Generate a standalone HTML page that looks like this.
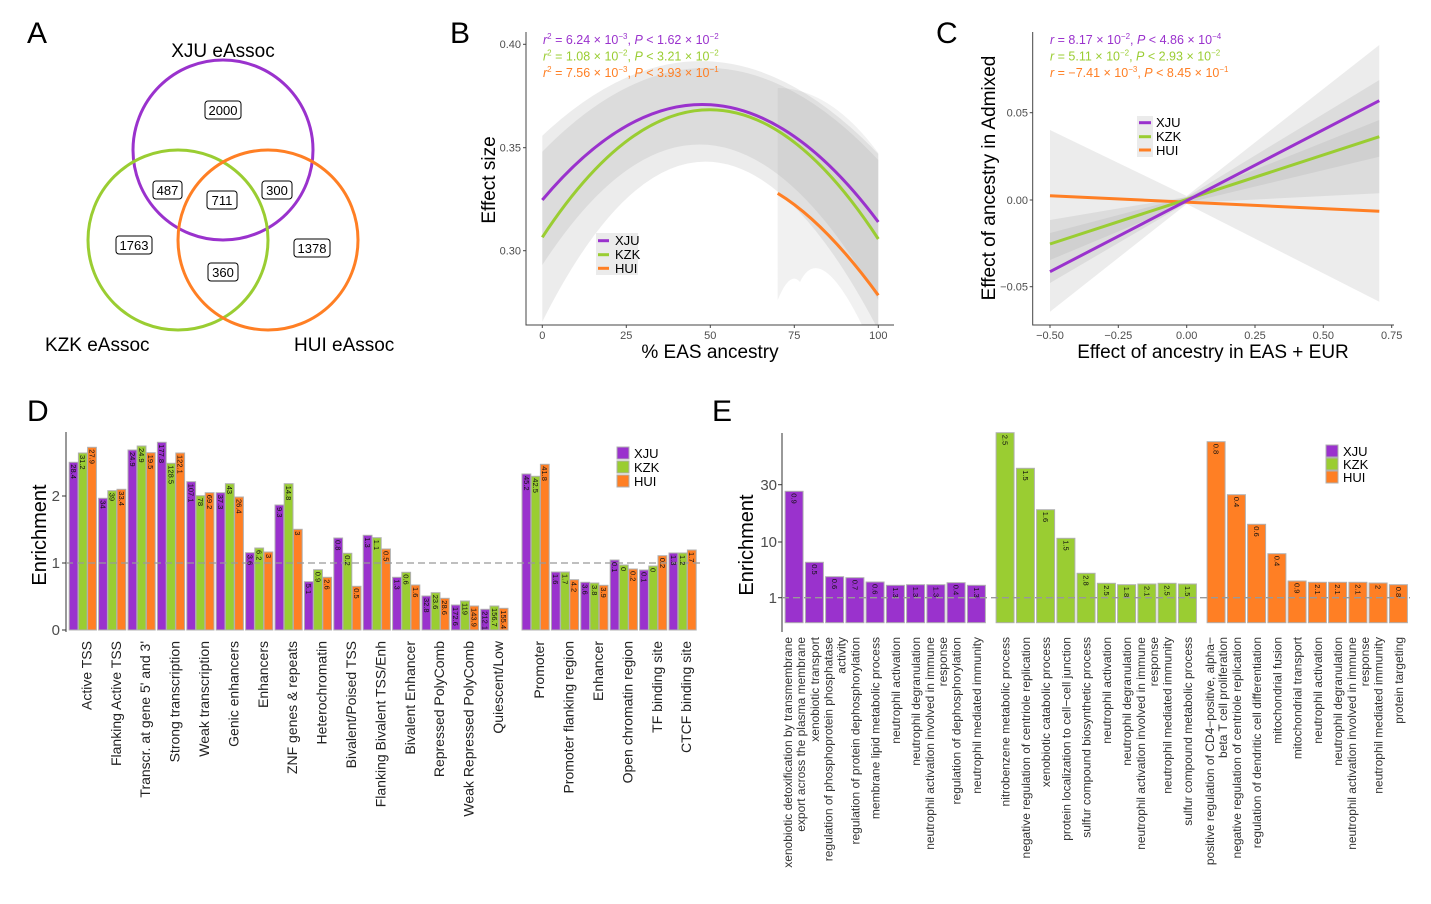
<!DOCTYPE html>
<html><head><meta charset="utf-8"><style>
html,body{margin:0;padding:0;background:#fff}
svg{display:block;font-family:"Liberation Sans",Arial,sans-serif}
.b{stroke:#b0b0b0;stroke-width:1}
.X{fill:#9A32CD}.K{fill:#9ACD32}.H{fill:#FF7F24}
.v{font-size:7.5px;fill:#111}
.dl{font-size:14px;fill:#222;text-anchor:end}
.el{font-size:12px;fill:#333;text-anchor:end}
.tk{font-size:11px;fill:#4d4d4d}
</style></head><body>
<svg width="1431" height="904" viewBox="0 0 1431 904" xmlns="http://www.w3.org/2000/svg">
<g font-size="30" fill="#000">
<text x="27" y="43">A</text><text x="450" y="43">B</text><text x="936" y="43">C</text>
<text x="27" y="421">D</text><text x="712" y="421">E</text></g>

<g fill="none" stroke-width="3">
<circle cx="223" cy="150" r="90" stroke="#9A32CD"/>
<circle cx="178" cy="240" r="90" stroke="#9ACD32"/>
<circle cx="268" cy="240" r="90" stroke="#FF7F24"/>
</g>
<g font-size="13" text-anchor="middle">
<rect x="205" y="101" width="36" height="18" rx="3" fill="#fff" stroke="#000"/><text x="223" y="115">2000</text>
<rect x="153" y="181" width="29" height="18" rx="3" fill="#fff" stroke="#000"/><text x="167.5" y="195">487</text>
<rect x="207" y="191" width="30" height="18" rx="3" fill="#fff" stroke="#000"/><text x="222" y="205">711</text>
<rect x="262" y="181" width="30" height="18" rx="3" fill="#fff" stroke="#000"/><text x="277" y="195">300</text>
<rect x="116" y="236" width="36" height="18" rx="3" fill="#fff" stroke="#000"/><text x="134" y="250">1763</text>
<rect x="208" y="263" width="30" height="18" rx="3" fill="#fff" stroke="#000"/><text x="223" y="277">360</text>
<rect x="294" y="239" width="36" height="18" rx="3" fill="#fff" stroke="#000"/><text x="312" y="253">1378</text>
</g>
<g font-size="19"><text x="223" y="57" text-anchor="middle">XJU eAssoc</text>
<text x="45" y="351">KZK eAssoc</text><text x="294" y="351">HUI eAssoc</text></g>

<defs><clipPath id="cb"><rect x="526" y="30" width="370" height="295"/></clipPath>
<clipPath id="cc"><rect x="1033" y="30" width="362" height="295"/></clipPath></defs>
<g clip-path="url(#cb)">
<path d="M542.3,135.7 Q710,-22 878.3,154 L878.3,330 Q705,-2.6 542.3,321.7 Z" fill="#a0a0a0" opacity="0.2"/>
<path d="M542.3,151.7 Q710,-19.9 878.3,160 L878.3,300 Q710,7.5 542.3,265 Z" fill="#a0a0a0" opacity="0.2"/>
<path d="M777.7,88 Q830,88 878.3,153 L878.3,325 L862,325 Q820,240 800,282 Q790,270 777.7,300 Z" fill="#a0a0a0" opacity="0.15"/>
<path d="M542.3,200 Q711.6,-1.5 878.3,222" fill="none" stroke="#9A32CD" stroke-width="3"/>
<path d="M542.3,237.3 Q710.3,-18.7 878.3,239" fill="none" stroke="#9ACD32" stroke-width="3"/>
<path d="M777.7,193.3 Q825,222 878.3,295.3" fill="none" stroke="#FF7F24" stroke-width="3"/>
</g>
<path d="M526,32 V325 H894" fill="none" stroke="#444" stroke-width="1"/>
<g class="tk" text-anchor="end"><text x="521" y="48">0.40</text><text x="521" y="151.5">0.35</text><text x="521" y="254.5">0.30</text></g>
<g stroke="#444"><line x1="523" y1="44.3" x2="526" y2="44.3"/><line x1="523" y1="147.7" x2="526" y2="147.7"/><line x1="523" y1="250.7" x2="526" y2="250.7"/>
<line x1="542.3" y1="325" x2="542.3" y2="328"/><line x1="626.3" y1="325" x2="626.3" y2="328"/><line x1="710.3" y1="325" x2="710.3" y2="328"/><line x1="794.3" y1="325" x2="794.3" y2="328"/><line x1="878.3" y1="325" x2="878.3" y2="328"/></g>
<g class="tk" text-anchor="middle"><text x="542.3" y="339">0</text><text x="626.3" y="339">25</text><text x="710.3" y="339">50</text><text x="794.3" y="339">75</text><text x="878.3" y="339">100</text></g>
<text x="710" y="358" font-size="19" text-anchor="middle">% EAS ancestry</text>
<text transform="translate(495,180) rotate(-90)" font-size="19" text-anchor="middle">Effect size</text>
<rect x="596" y="233" width="42" height="42" fill="#ebebeb"/>
<g stroke-width="3"><line x1="598" y1="240.7" x2="609" y2="240.7" stroke="#9A32CD"/><line x1="598" y1="254.7" x2="609" y2="254.7" stroke="#9ACD32"/><line x1="598" y1="268.3" x2="609" y2="268.3" stroke="#FF7F24"/></g>
<g font-size="13"><text x="615" y="245">XJU</text><text x="615" y="259">KZK</text><text x="615" y="273">HUI</text></g>
<g font-size="12.5">
<text x="543" y="44" fill="#9A32CD"><tspan font-style="italic">r</tspan><tspan dy="-5" font-size="8">2</tspan><tspan dy="5"> = 6.24 × 10</tspan><tspan dy="-5" font-size="8">−3</tspan><tspan dy="5">,  </tspan><tspan font-style="italic">P</tspan><tspan> &lt; 1.62 × 10</tspan><tspan dy="-5" font-size="8">−2</tspan></text>
<text x="543" y="60.5" fill="#9ACD32"><tspan font-style="italic">r</tspan><tspan dy="-5" font-size="8">2</tspan><tspan dy="5"> = 1.08 × 10</tspan><tspan dy="-5" font-size="8">−2</tspan><tspan dy="5">,  </tspan><tspan font-style="italic">P</tspan><tspan> &lt; 3.21 × 10</tspan><tspan dy="-5" font-size="8">−2</tspan></text>
<text x="543" y="77" fill="#FF7F24"><tspan font-style="italic">r</tspan><tspan dy="-5" font-size="8">2</tspan><tspan dy="5"> = 7.56 × 10</tspan><tspan dy="-5" font-size="8">−3</tspan><tspan dy="5">,  </tspan><tspan font-style="italic">P</tspan><tspan> &lt; 3.93 × 10</tspan><tspan dy="-5" font-size="8">−1</tspan></text>
</g>

<g clip-path="url(#cc)">
<polygon points="1050,130 1186.7,196 1379.3,45 1379.3,301.7 1186.7,204 1050,311.7" fill="#a0a0a0" opacity="0.2"/>
<polygon points="1050,233 1186.7,197 1379.3,80 1379.3,156.7 1186.7,203 1050,283" fill="#a0a0a0" opacity="0.2"/>
<polygon points="1050,220 1186.7,197 1379.3,120 1379.3,193.3 1186.7,203 1050,260" fill="#a0a0a0" opacity="0.2"/>
<line x1="1050" y1="195.7" x2="1379.3" y2="211.3" stroke="#FF7F24" stroke-width="3"/>
<line x1="1050" y1="244" x2="1379.3" y2="136.7" stroke="#9ACD32" stroke-width="3"/>
<line x1="1050" y1="271.7" x2="1379.3" y2="100.7" stroke="#9A32CD" stroke-width="3"/>
</g>
<path d="M1032.7,32 V325 H1394" fill="none" stroke="#444"/>
<g class="tk" text-anchor="end"><text x="1028" y="116.5">0.05</text><text x="1028" y="204">0.00</text><text x="1028" y="290.5">−0.05</text></g>
<g stroke="#444"><line x1="1029.7" y1="112.7" x2="1032.7" y2="112.7"/><line x1="1029.7" y1="200" x2="1032.7" y2="200"/><line x1="1029.7" y1="286.7" x2="1032.7" y2="286.7"/>
<line x1="1050" y1="325" x2="1050" y2="328"/><line x1="1118.3" y1="325" x2="1118.3" y2="328"/><line x1="1186.7" y1="325" x2="1186.7" y2="328"/><line x1="1255" y1="325" x2="1255" y2="328"/><line x1="1323.3" y1="325" x2="1323.3" y2="328"/><line x1="1391.7" y1="325" x2="1391.7" y2="328"/></g>
<g class="tk" text-anchor="middle"><text x="1050" y="339">−0.50</text><text x="1118.3" y="339">−0.25</text><text x="1186.7" y="339">0.00</text><text x="1255" y="339">0.25</text><text x="1323.3" y="339">0.50</text><text x="1391.7" y="339">0.75</text></g>
<text x="1213" y="358" font-size="19" text-anchor="middle">Effect of ancestry in EAS + EUR</text>
<text transform="translate(995,178) rotate(-90)" font-size="19" text-anchor="middle">Effect of ancestry in Admixed</text>
<rect x="1137" y="116" width="16" height="41" fill="#ebebeb"/>
<g stroke-width="3"><line x1="1139" y1="122.7" x2="1151" y2="122.7" stroke="#9A32CD"/><line x1="1139" y1="136.7" x2="1151" y2="136.7" stroke="#9ACD32"/><line x1="1139" y1="150" x2="1151" y2="150" stroke="#FF7F24"/></g>
<g font-size="13"><text x="1156" y="127">XJU</text><text x="1156" y="141">KZK</text><text x="1156" y="155">HUI</text></g>
<g font-size="12.5">
<text x="1050" y="44" fill="#9A32CD"><tspan font-style="italic">r</tspan><tspan> = 8.17 × 10</tspan><tspan dy="-5" font-size="8">−2</tspan><tspan dy="5">,  </tspan><tspan font-style="italic">P</tspan><tspan> &lt; 4.86 × 10</tspan><tspan dy="-5" font-size="8">−4</tspan></text>
<text x="1050" y="60.5" fill="#9ACD32"><tspan font-style="italic">r</tspan><tspan> = 5.11 × 10</tspan><tspan dy="-5" font-size="8">−2</tspan><tspan dy="5">,  </tspan><tspan font-style="italic">P</tspan><tspan> &lt; 2.93 × 10</tspan><tspan dy="-5" font-size="8">−2</tspan></text>
<text x="1050" y="77" fill="#FF7F24"><tspan font-style="italic">r</tspan><tspan> = −7.41 × 10</tspan><tspan dy="-5" font-size="8">−3</tspan><tspan dy="5">,  </tspan><tspan font-style="italic">P</tspan><tspan> &lt; 8.45 × 10</tspan><tspan dy="-5" font-size="8">−1</tspan></text>
</g>

<line x1="66" y1="432" x2="66" y2="632" stroke="#333"/>
<g stroke="#333"><line x1="62" y1="496" x2="66" y2="496"/><line x1="62" y1="563" x2="66" y2="563"/><line x1="62" y1="630" x2="66" y2="630"/></g>
<g font-size="15" fill="#4d4d4d" text-anchor="end"><text x="60" y="501">2</text><text x="60" y="568">1</text><text x="60" y="635">0</text></g>
<text transform="translate(46,535) rotate(-90)" font-size="20" text-anchor="middle">Enrichment</text>
<g class="b">
<rect class="X" x="69.2" y="462.3" width="8.8" height="167.7"/><rect class="K" x="78.4" y="453" width="8.8" height="177"/><rect class="H" x="87.6" y="447.3" width="8.8" height="182.7"/>
<rect class="X" x="98.6" y="498.3" width="8.8" height="131.7"/><rect class="K" x="107.8" y="490.7" width="8.8" height="139.3"/><rect class="H" x="117" y="489.3" width="8.8" height="140.7"/>
<rect class="X" x="128" y="450" width="8.8" height="180"/><rect class="K" x="137.2" y="446" width="8.8" height="184"/><rect class="H" x="146.4" y="452.7" width="8.8" height="177.3"/>
<rect class="X" x="157.4" y="442.3" width="8.8" height="187.7"/><rect class="K" x="166.6" y="463.3" width="8.8" height="166.7"/><rect class="H" x="175.8" y="453" width="8.8" height="177"/>
<rect class="X" x="186.8" y="481.7" width="8.8" height="148.3"/><rect class="K" x="196" y="495.7" width="8.8" height="134.3"/><rect class="H" x="205.2" y="492.7" width="8.8" height="137.3"/>
<rect class="X" x="216.2" y="492.7" width="8.8" height="137.3"/><rect class="K" x="225.4" y="483.7" width="8.8" height="146.3"/><rect class="H" x="234.6" y="497" width="8.8" height="133"/>
<rect class="X" x="245.6" y="552.7" width="8.8" height="77.3"/><rect class="K" x="254.8" y="548" width="8.8" height="82"/><rect class="H" x="264" y="552" width="8.8" height="78"/>
<rect class="X" x="275" y="505" width="8.8" height="125"/><rect class="K" x="284.2" y="483.7" width="8.8" height="146.3"/><rect class="H" x="293.4" y="529.3" width="8.8" height="100.7"/>
<rect class="X" x="304.4" y="581.7" width="8.8" height="48.3"/><rect class="K" x="313.6" y="569.7" width="8.8" height="60.3"/><rect class="H" x="322.8" y="577.3" width="8.8" height="52.7"/>
<rect class="X" x="333.8" y="538" width="8.8" height="92"/><rect class="K" x="343" y="553.3" width="8.8" height="76.7"/><rect class="H" x="352.2" y="586.3" width="8.8" height="43.7"/>
<rect class="X" x="363.2" y="535.3" width="8.8" height="94.7"/><rect class="K" x="372.4" y="537.7" width="8.8" height="92.3"/><rect class="H" x="381.6" y="549" width="8.8" height="81"/>
<rect class="X" x="392.6" y="577.3" width="8.8" height="52.7"/><rect class="K" x="401.8" y="572.3" width="8.8" height="57.7"/><rect class="H" x="411" y="585" width="8.8" height="45"/>
<rect class="X" x="422" y="596" width="8.8" height="34"/><rect class="K" x="431.2" y="592.7" width="8.8" height="37.3"/><rect class="H" x="440.4" y="598.3" width="8.8" height="31.7"/>
<rect class="X" x="451.4" y="605" width="8.8" height="25"/><rect class="K" x="460.6" y="601" width="8.8" height="29"/><rect class="H" x="469.8" y="606" width="8.8" height="24"/>
<rect class="X" x="480.8" y="609.3" width="8.8" height="20.7"/><rect class="K" x="490" y="606" width="8.8" height="24"/><rect class="H" x="499.2" y="608.3" width="8.8" height="21.7"/>
<rect class="X" x="522" y="474" width="8.8" height="156"/><rect class="K" x="531.2" y="476.3" width="8.8" height="153.7"/><rect class="H" x="540.4" y="464.3" width="8.8" height="165.7"/>
<rect class="X" x="551.4" y="572" width="8.8" height="58"/><rect class="K" x="560.6" y="572" width="8.8" height="58"/><rect class="H" x="569.8" y="579.7" width="8.8" height="50.3"/>
<rect class="X" x="580.8" y="582.3" width="8.8" height="47.7"/><rect class="K" x="590" y="583" width="8.8" height="47"/><rect class="H" x="599.2" y="585.3" width="8.8" height="44.7"/>
<rect class="X" x="610.2" y="560" width="8.8" height="70"/><rect class="K" x="619.4" y="565" width="8.8" height="65"/><rect class="H" x="628.6" y="569" width="8.8" height="61"/>
<rect class="X" x="639.6" y="570" width="8.8" height="60"/><rect class="K" x="648.8" y="566" width="8.8" height="64"/><rect class="H" x="658" y="555.7" width="8.8" height="74.3"/>
<rect class="X" x="669" y="553" width="8.8" height="77"/><rect class="K" x="678.2" y="553" width="8.8" height="77"/><rect class="H" x="687.4" y="550" width="8.8" height="80"/>
</g>
<line x1="66" y1="563" x2="702" y2="563" stroke="#999" stroke-width="1.3" stroke-dasharray="7,4"/>
<g class="v">
<text transform="translate(71,464.3) rotate(90)">28.4</text><text transform="translate(80.2,455) rotate(90)">31.2</text><text transform="translate(89.4,449.3) rotate(90)">27.9</text>
<text transform="translate(100.4,500.3) rotate(90)">34</text><text transform="translate(109.6,492.7) rotate(90)">39</text><text transform="translate(118.8,491.3) rotate(90)">33.4</text>
<text transform="translate(129.8,452) rotate(90)">24.9</text><text transform="translate(139,448) rotate(90)">24.9</text><text transform="translate(148.2,454.7) rotate(90)">19.5</text>
<text transform="translate(159.2,444.3) rotate(90)">177.8</text><text transform="translate(168.4,465.3) rotate(90)">128.5</text><text transform="translate(177.6,455) rotate(90)">122.1</text>
<text transform="translate(188.6,483.7) rotate(90)">107.1</text><text transform="translate(197.8,497.7) rotate(90)">78</text><text transform="translate(207,494.7) rotate(90)">69.2</text>
<text transform="translate(218,494.7) rotate(90)">37.3</text><text transform="translate(227.2,485.7) rotate(90)">43</text><text transform="translate(236.4,499) rotate(90)">26.4</text>
<text transform="translate(247.4,554.7) rotate(90)">3.6</text><text transform="translate(256.6,550) rotate(90)">6.2</text><text transform="translate(265.8,554) rotate(90)">3</text>
<text transform="translate(276.8,507) rotate(90)">9.3</text><text transform="translate(286,485.7) rotate(90)">14.8</text><text transform="translate(295.2,531.3) rotate(90)">3</text>
<text transform="translate(306.2,583.7) rotate(90)">5.1</text><text transform="translate(315.4,571.7) rotate(90)">0.9</text><text transform="translate(324.6,579.3) rotate(90)">2.6</text>
<text transform="translate(335.6,540) rotate(90)">0.8</text><text transform="translate(344.8,555.3) rotate(90)">0.2</text><text transform="translate(354,588.3) rotate(90)">0.5</text>
<text transform="translate(365,537.3) rotate(90)">1.3</text><text transform="translate(374.2,539.7) rotate(90)">1.1</text><text transform="translate(383.4,551) rotate(90)">0.5</text>
<text transform="translate(394.4,579.3) rotate(90)">1.3</text><text transform="translate(403.6,574.3) rotate(90)">0.6</text><text transform="translate(412.8,587) rotate(90)">1.6</text>
<text transform="translate(423.8,598) rotate(90)">32.8</text><text transform="translate(433,594.7) rotate(90)">23.6</text><text transform="translate(442.2,600.3) rotate(90)">28.6</text>
<text transform="translate(453.2,607) rotate(90)">172.6</text><text transform="translate(462.4,603) rotate(90)">119</text><text transform="translate(471.6,608) rotate(90)">143.9</text>
<text transform="translate(482.6,611.3) rotate(90)">212.1</text><text transform="translate(491.8,608) rotate(90)">156.7</text><text transform="translate(501,610.3) rotate(90)">155.4</text>
<text transform="translate(523.8,476) rotate(90)">45.2</text><text transform="translate(533,478.3) rotate(90)">42.5</text><text transform="translate(542.2,466.3) rotate(90)">41.8</text>
<text transform="translate(553.2,574) rotate(90)">1.6</text><text transform="translate(562.4,574) rotate(90)">1.7</text><text transform="translate(571.6,581.7) rotate(90)">4.2</text>
<text transform="translate(582.6,584.3) rotate(90)">3.6</text><text transform="translate(591.8,585) rotate(90)">3.8</text><text transform="translate(601,587.3) rotate(90)">3.9</text>
<text transform="translate(612,562) rotate(90)">0.1</text><text transform="translate(621.2,567) rotate(90)">0</text><text transform="translate(630.4,571) rotate(90)">0.2</text>
<text transform="translate(641.4,572) rotate(90)">0.1</text><text transform="translate(650.6,568) rotate(90)">0</text><text transform="translate(659.8,557.7) rotate(90)">0.2</text>
<text transform="translate(670.8,555) rotate(90)">1.3</text><text transform="translate(680,555) rotate(90)">1.2</text><text transform="translate(689.2,552) rotate(90)">1.7</text>
</g>
<g class="b"><rect class="X" x="617" y="447" width="12" height="12"/><rect class="K" x="617" y="461" width="12" height="12"/><rect class="H" x="617" y="475" width="12" height="12"/></g>
<g font-size="13"><text x="634" y="458">XJU</text><text x="634" y="472">KZK</text><text x="634" y="486">HUI</text></g>
<g class="dl">
<text transform="translate(91.4,641) rotate(-90)">Active TSS</text>
<text transform="translate(120.8,641) rotate(-90)">Flanking Active TSS</text>
<text transform="translate(150.2,641) rotate(-90)">Transcr. at gene 5' and 3'</text>
<text transform="translate(179.6,641) rotate(-90)">Strong transcription</text>
<text transform="translate(209,641) rotate(-90)">Weak transcription</text>
<text transform="translate(238.4,641) rotate(-90)">Genic enhancers</text>
<text transform="translate(267.8,641) rotate(-90)">Enhancers</text>
<text transform="translate(297.2,641) rotate(-90)">ZNF genes &amp; repeats</text>
<text transform="translate(326.6,641) rotate(-90)">Heterochromatin</text>
<text transform="translate(356,641) rotate(-90)">Bivalent/Poised TSS</text>
<text transform="translate(385.4,641) rotate(-90)">Flanking Bivalent TSS/Enh</text>
<text transform="translate(414.8,641) rotate(-90)">Bivalent Enhancer</text>
<text transform="translate(444.2,641) rotate(-90)">Repressed PolyComb</text>
<text transform="translate(473.6,641) rotate(-90)">Weak Repressed PolyComb</text>
<text transform="translate(503,641) rotate(-90)">Quiescent/Low</text>
<text transform="translate(544.2,641) rotate(-90)">Promoter</text>
<text transform="translate(573.6,641) rotate(-90)">Promoter flanking region</text>
<text transform="translate(603,641) rotate(-90)">Enhancer</text>
<text transform="translate(632.4,641) rotate(-90)">Open chromatin region</text>
<text transform="translate(661.8,641) rotate(-90)">TF binding site</text>
<text transform="translate(691.2,641) rotate(-90)">CTCF binding site</text>
</g>

<line x1="782" y1="433" x2="782" y2="632" stroke="#333"/>
<g stroke="#333"><line x1="778" y1="484.7" x2="782" y2="484.7"/><line x1="778" y1="542" x2="782" y2="542"/><line x1="778" y1="597.7" x2="782" y2="597.7"/></g>
<g font-size="15" fill="#4d4d4d" text-anchor="end"><text x="777" y="490">30</text><text x="777" y="547">10</text><text x="777" y="603">1</text></g>
<text transform="translate(753,545) rotate(-90)" font-size="20" text-anchor="middle">Enrichment</text>
<g class="b">
<rect class="X" x="785.1" y="491.3" width="18" height="131.4"/><rect class="X" x="805.4" y="562.3" width="18" height="60.4"/><rect class="X" x="825.6" y="576.7" width="18" height="46"/><rect class="X" x="845.9" y="577.7" width="18" height="45"/><rect class="X" x="866.1" y="582" width="18" height="40.7"/><rect class="X" x="886.4" y="585.3" width="18" height="37.4"/><rect class="X" x="906.6" y="584.7" width="18" height="38"/><rect class="X" x="926.9" y="584.7" width="18" height="38"/><rect class="X" x="947.1" y="582.7" width="18" height="40"/><rect class="X" x="967.4" y="585.3" width="18" height="37.4"/>
<rect class="K" x="996.1" y="432.7" width="18" height="190"/><rect class="K" x="1016.4" y="468.3" width="18" height="154.4"/><rect class="K" x="1036.6" y="509.7" width="18" height="113"/><rect class="K" x="1056.9" y="538.3" width="18" height="84.4"/><rect class="K" x="1077.1" y="573.3" width="18" height="49.4"/><rect class="K" x="1097.4" y="583.3" width="18" height="39.4"/><rect class="K" x="1117.6" y="584.7" width="18" height="38"/><rect class="K" x="1137.9" y="584" width="18" height="38.7"/><rect class="K" x="1158.1" y="583.3" width="18" height="39.4"/><rect class="K" x="1178.4" y="584" width="18" height="38.7"/>
<rect class="H" x="1207.1" y="441.7" width="18" height="181"/><rect class="H" x="1227.4" y="494.7" width="18" height="128"/><rect class="H" x="1247.6" y="524.3" width="18" height="98.4"/><rect class="H" x="1267.9" y="553.7" width="18" height="69"/><rect class="H" x="1288.1" y="581" width="18" height="41.7"/><rect class="H" x="1308.4" y="582.3" width="18" height="40.4"/><rect class="H" x="1328.6" y="582.3" width="18" height="40.4"/><rect class="H" x="1348.9" y="582.3" width="18" height="40.4"/><rect class="H" x="1369.1" y="583" width="18" height="39.7"/><rect class="H" x="1389.4" y="584.7" width="18" height="38"/>
</g>
<line x1="782" y1="597.7" x2="1410" y2="597.7" stroke="#999" stroke-width="1.3" stroke-dasharray="7,4"/>
<g class="v">
<text transform="translate(791.6,493.3) rotate(90)">0.9</text><text transform="translate(811.9,564.3) rotate(90)">0.5</text><text transform="translate(832.1,578.7) rotate(90)">0.6</text><text transform="translate(852.4,579.7) rotate(90)">0.7</text><text transform="translate(872.6,584) rotate(90)">0.6</text><text transform="translate(892.9,587.3) rotate(90)">1.3</text><text transform="translate(913.1,586.7) rotate(90)">1.3</text><text transform="translate(933.4,586.7) rotate(90)">1.3</text><text transform="translate(953.6,584.7) rotate(90)">0.4</text><text transform="translate(973.9,587.3) rotate(90)">1.3</text>
<text transform="translate(1002.6,434.7) rotate(90)">2.5</text><text transform="translate(1022.9,470.3) rotate(90)">1.5</text><text transform="translate(1043.1,511.7) rotate(90)">1.6</text><text transform="translate(1063.4,540.3) rotate(90)">1.5</text><text transform="translate(1083.6,575.3) rotate(90)">2.8</text><text transform="translate(1103.9,585.3) rotate(90)">2.5</text><text transform="translate(1124.1,586.7) rotate(90)">1.8</text><text transform="translate(1144.4,586) rotate(90)">2.1</text><text transform="translate(1164.6,585.3) rotate(90)">2.5</text><text transform="translate(1184.9,586) rotate(90)">1.5</text>
<text transform="translate(1213.6,443.7) rotate(90)">0.8</text><text transform="translate(1233.9,496.7) rotate(90)">0.4</text><text transform="translate(1254.1,526.3) rotate(90)">0.6</text><text transform="translate(1274.4,555.7) rotate(90)">0.4</text><text transform="translate(1294.6,583) rotate(90)">0.9</text><text transform="translate(1314.9,584.3) rotate(90)">2.1</text><text transform="translate(1335.1,584.3) rotate(90)">2.1</text><text transform="translate(1355.4,584.3) rotate(90)">2.1</text><text transform="translate(1375.6,585) rotate(90)">2</text><text transform="translate(1395.9,586.7) rotate(90)">0.8</text>
</g>
<g class="b"><rect class="X" x="1326" y="445" width="12" height="12"/><rect class="K" x="1326" y="458" width="12" height="12"/><rect class="H" x="1326" y="471" width="12" height="12"/></g>
<g font-size="13"><text x="1343" y="456">XJU</text><text x="1343" y="469">KZK</text><text x="1343" y="482">HUI</text></g>
<g class="el">
<text transform="translate(792,637) rotate(-90)">xenobiotic detoxification by transmembrane</text>
<text transform="translate(805,637) rotate(-90)">export across the plasma membrane</text>
<text transform="translate(818.9,637) rotate(-90)">xenobiotic transport</text>
<text transform="translate(832.5,637) rotate(-90)">regulation of phosphoprotein phosphatase</text>
<text transform="translate(845.5,637) rotate(-90)">activity</text>
<text transform="translate(859.4,637) rotate(-90)">regulation of protein dephosphorylation</text>
<text transform="translate(879.6,637) rotate(-90)">membrane lipid metabolic process</text>
<text transform="translate(899.9,637) rotate(-90)">neutrophil activation</text>
<text transform="translate(920.1,637) rotate(-90)">neutrophil degranulation</text>
<text transform="translate(934,637) rotate(-90)">neutrophil activation involved in immune</text>
<text transform="translate(947,637) rotate(-90)">response</text>
<text transform="translate(960.6,637) rotate(-90)">regulation of dephosphorylation</text>
<text transform="translate(980.9,637) rotate(-90)">neutrophil mediated immunity</text>
<text transform="translate(1009.6,637) rotate(-90)">nitrobenzene metabolic process</text>
<text transform="translate(1029.9,637) rotate(-90)">negative regulation of centriole replication</text>
<text transform="translate(1050.1,637) rotate(-90)">xenobiotic catabolic process</text>
<text transform="translate(1070.4,637) rotate(-90)">protein localization to cell−cell junction</text>
<text transform="translate(1090.6,637) rotate(-90)">sulfur compound biosynthetic process</text>
<text transform="translate(1110.9,637) rotate(-90)">neutrophil activation</text>
<text transform="translate(1131.1,637) rotate(-90)">neutrophil degranulation</text>
<text transform="translate(1145,637) rotate(-90)">neutrophil activation involved in immune</text>
<text transform="translate(1158,637) rotate(-90)">response</text>
<text transform="translate(1171.6,637) rotate(-90)">neutrophil mediated immunity</text>
<text transform="translate(1191.9,637) rotate(-90)">sulfur compound metabolic process</text>
<text transform="translate(1214,637) rotate(-90)">positive regulation of CD4−positive, alpha−</text>
<text transform="translate(1227,637) rotate(-90)">beta T cell proliferation</text>
<text transform="translate(1240.9,637) rotate(-90)">negative regulation of centriole replication</text>
<text transform="translate(1261.1,637) rotate(-90)">regulation of dendritic cell differentiation</text>
<text transform="translate(1281.4,637) rotate(-90)">mitochondrial fusion</text>
<text transform="translate(1301.6,637) rotate(-90)">mitochondrial transport</text>
<text transform="translate(1321.9,637) rotate(-90)">neutrophil activation</text>
<text transform="translate(1342.1,637) rotate(-90)">neutrophil degranulation</text>
<text transform="translate(1356,637) rotate(-90)">neutrophil activation involved in immune</text>
<text transform="translate(1369,637) rotate(-90)">response</text>
<text transform="translate(1382.6,637) rotate(-90)">neutrophil mediated immunity</text>
<text transform="translate(1402.9,637) rotate(-90)">protein targeting</text>
</g>
</svg>
</body></html>
